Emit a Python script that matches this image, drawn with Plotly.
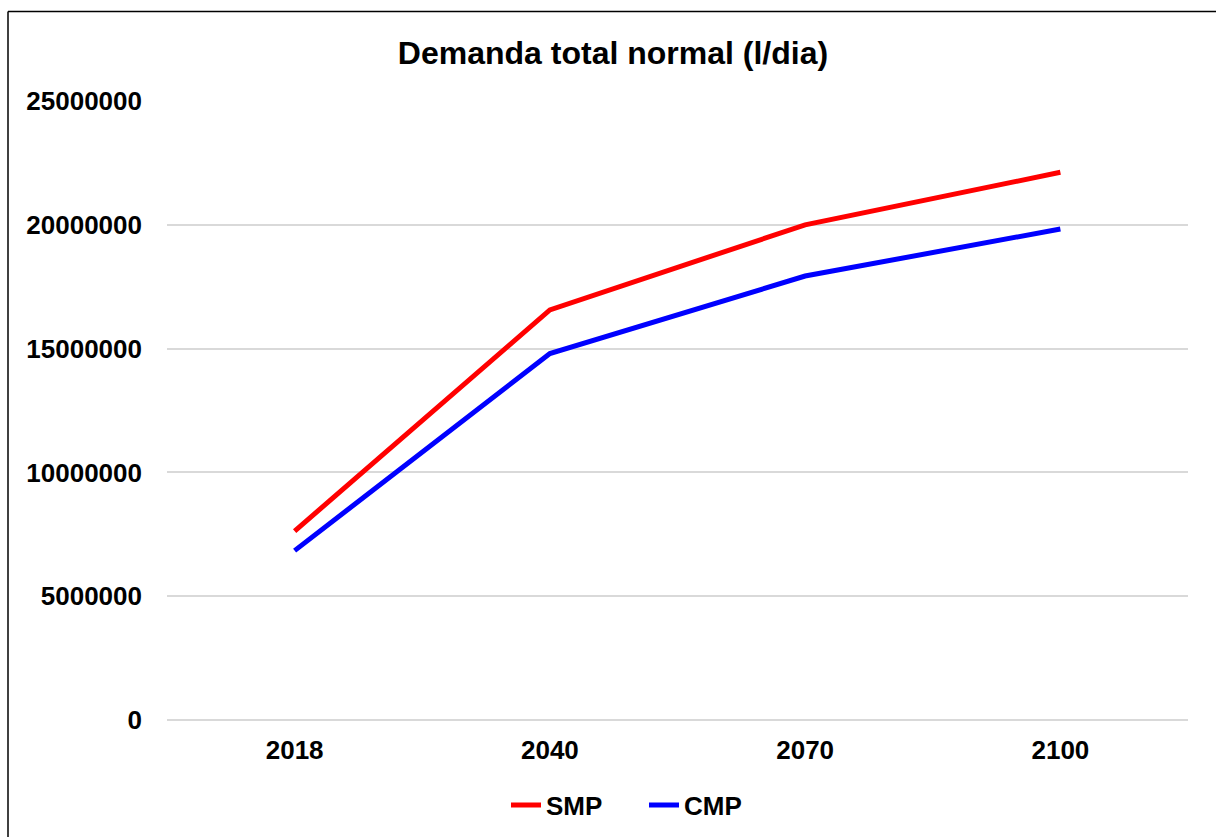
import plotly.graph_objects as go

years = ["2018", "2040", "2070", "2100"]
smp = [7630000, 16560000, 20000000, 22120000]
cmp_ = [6840000, 14800000, 17930000, 19830000]
y_ticks = [0, 5000000, 10000000, 15000000, 20000000, 25000000]

W, H = 1216, 837
L, R, T = 167, 28, 101
pw, ph = 1021, 619
B = H - T - ph

font = "Arial, Liberation Sans, sans-serif"

fig = go.Figure()
fig.add_trace(go.Scatter(x=years, y=smp, mode="lines", name="SMP",
                         line=dict(color="#ff0000", width=5)))
fig.add_trace(go.Scatter(x=years, y=cmp_, mode="lines", name="CMP",
                         line=dict(color="#0000ff", width=5)))

bx = (8 - L) / pw
by = (720 - 11.5) / ph
fig.update_layout(
    width=W, height=H,
    margin=dict(l=L, r=R, t=T, b=B, autoexpand=False),
    paper_bgcolor="white", plot_bgcolor="white",
    font=dict(family=font, color="black", size=26),
    title=dict(text="<b>Demanda total normal (l/dia)</b>", x=613 / W, xanchor="center",
               y=1 - 53 / H, yanchor="middle", font=dict(size=32, family=font)),
    showlegend=True,
    legend=dict(orientation="h", x=(644 - L) / pw, xanchor="center",
                y=(720 - 805) / ph, yanchor="middle", entrywidth=93,
                font=dict(size=26, family=font, weight="bold"), itemwidth=30),
    xaxis=dict(type="category", range=[-0.5, 3.5], showgrid=False, zeroline=False,
               showline=False, ticks="", tickfont=dict(size=26, weight="bold"),
               ticklabelstandoff=12, automargin=False),
    yaxis=dict(range=[0, 25000000], tickvals=y_ticks, ticktext=[str(v) for v in y_ticks],
               showgrid=True, gridcolor="#d9d9d9", gridwidth=2,
               zeroline=True, zerolinecolor="#d9d9d9", zerolinewidth=2,
               showline=False, ticks="", tickfont=dict(size=26, weight="bold"),
               ticklabelstandoff=24, automargin=False),
    shapes=[
        dict(type="line", xref="paper", yref="paper", x0=bx, x1=bx, y0=-0.5, y1=by,
             line=dict(color="black", width=1.5), layer="below"),
        dict(type="line", xref="paper", yref="paper", x0=bx, x1=1.2, y0=by, y1=by,
             line=dict(color="black", width=1.5), layer="below"),
    ],
)

fig.write_html("out.html", config={"displayModeBar": False},
               post_script="document.body.style.margin='0';document.body.style.overflow='hidden';")
